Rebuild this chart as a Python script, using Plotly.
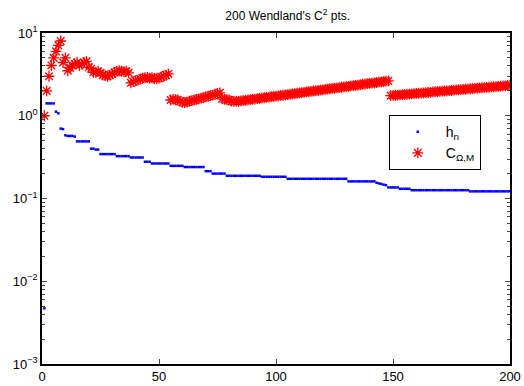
import plotly.graph_objects as go

n = list(range(1, 201))

h_n = [
    0.0047, 1.41, 1.41, 1.41, 1.41, 1.12, 1.07, 0.70, 0.69, 0.58,
    0.57, 0.57, 0.57, 0.56, 0.49, 0.49, 0.49, 0.49, 0.49, 0.49,
    0.40, 0.40, 0.39, 0.39, 0.344, 0.344, 0.344, 0.344, 0.344, 0.344,
    0.344, 0.325, 0.325, 0.325, 0.325, 0.325, 0.325, 0.313, 0.313, 0.313,
    0.313, 0.313, 0.313, 0.278, 0.278, 0.278, 0.265, 0.265, 0.265, 0.265,
    0.265, 0.265, 0.265, 0.265, 0.248, 0.248, 0.248, 0.248, 0.248, 0.248,
    0.240, 0.240, 0.240, 0.240, 0.240, 0.240, 0.240, 0.240, 0.240, 0.214,
    0.214, 0.214, 0.200, 0.200, 0.200, 0.200, 0.200, 0.200, 0.188, 0.188,
    0.188, 0.188, 0.188, 0.188, 0.188, 0.188, 0.188, 0.188, 0.188, 0.188,
    0.188, 0.188, 0.188, 0.183, 0.183, 0.183, 0.183, 0.183, 0.183, 0.183,
    0.183, 0.183, 0.183, 0.183, 0.173, 0.173, 0.173, 0.173, 0.173, 0.173,
    0.173, 0.173, 0.173, 0.173, 0.173, 0.173, 0.173, 0.173, 0.173, 0.173,
    0.173, 0.173, 0.173, 0.173, 0.173, 0.173, 0.173, 0.173, 0.173, 0.173,
    0.161, 0.161, 0.161, 0.161, 0.161, 0.161, 0.161, 0.161, 0.161, 0.161,
    0.161, 0.161, 0.155, 0.152, 0.150, 0.147, 0.145, 0.136, 0.136, 0.136,
    0.136, 0.136, 0.131, 0.131, 0.131, 0.131, 0.131, 0.126, 0.126, 0.126,
    0.126, 0.126, 0.126, 0.126, 0.126, 0.126, 0.126, 0.126, 0.126, 0.126,
    0.126, 0.126, 0.126, 0.126, 0.126, 0.126, 0.126, 0.126, 0.126, 0.126,
    0.126, 0.126, 0.122, 0.122, 0.122, 0.122, 0.122, 0.122, 0.122, 0.122,
    0.122, 0.122, 0.122, 0.122, 0.122, 0.122, 0.122, 0.122, 0.122, 0.122,
]

c_omega_m = [
    1.0, 2.0, 3.0, 4.05, 5.0, 6.0, 7.1, 8.0, 4.4, 5.0,
    3.5, 3.8, 4.05, 4.25, 4.4, 4.05, 4.2, 4.4, 4.55, 3.85,
    3.7, 3.35, 3.35, 3.45, 3.3, 3.1, 3.05, 3.0, 3.1, 3.2,
    3.35, 3.45, 3.5, 3.45, 3.4, 3.45, 3.3, 2.5, 2.58, 2.65,
    2.7, 2.78, 2.85, 2.88, 2.9, 2.85, 2.88, 2.82, 2.8, 2.85,
    2.95, 3.02, 3.1, 3.2, 1.55, 1.58, 1.56, 1.55, 1.5, 1.45,
    1.44, 1.46, 1.5, 1.52, 1.55, 1.58, 1.6, 1.63, 1.66, 1.69,
    1.72, 1.75, 1.78, 1.82, 1.86, 1.89, 1.6, 1.58, 1.57, 1.55,
    1.5, 1.49, 1.5, 1.49, 1.51, 1.53, 1.54, 1.55, 1.57, 1.58,
    1.59, 1.61, 1.62, 1.64, 1.65, 1.67, 1.68, 1.70, 1.71, 1.73,
    1.74, 1.76, 1.77, 1.79, 1.80, 1.82, 1.84, 1.85, 1.87, 1.89,
    1.90, 1.92, 1.94, 1.95, 1.97, 1.99, 2.01, 2.02, 2.04, 2.06,
    2.08, 2.10, 2.12, 2.14, 2.15, 2.17, 2.19, 2.21, 2.23, 2.25,
    2.27, 2.29, 2.31, 2.33, 2.35, 2.37, 2.40, 2.42, 2.44, 2.46,
    2.48, 2.50, 2.52, 2.55, 2.57, 2.59, 2.62, 2.64, 1.75, 1.76,
    1.77, 1.78, 1.79, 1.80, 1.81, 1.82, 1.83, 1.84, 1.85, 1.86,
    1.87, 1.88, 1.89, 1.90, 1.91, 1.92, 1.94, 1.95, 1.96, 1.97,
    1.98, 1.99, 2.00, 2.01, 2.02, 2.04, 2.05, 2.06, 2.07, 2.08,
    2.09, 2.11, 2.12, 2.13, 2.14, 2.15, 2.17, 2.18, 2.19, 2.20,
    2.21, 2.23, 2.24, 2.25, 2.26, 2.28, 2.29, 2.30, 2.32, 2.33,
]

x_ticks = [0, 50, 100, 150, 200]
y_tickvals = [0.001, 0.01, 0.1, 1, 10]
y_ticktext = ["10<sup>−3</sup>", "10<sup>−2</sup>", "10<sup>−1</sup>", "10<sup>0</sup>", "10<sup>1</sup>"]
y_minor = [m * d for d in (0.001, 0.01, 0.1, 1) for m in range(2, 10)]

FONT = "Liberation Sans, Arial, Helvetica, sans-serif"

fig = go.Figure()
fig.add_trace(go.Scatter(
    x=n, y=h_n, mode="markers", name="h<sub>n</sub>",
    marker=dict(symbol="square", size=2.5, color="#0000ff", line=dict(width=0)),
))
fig.add_trace(go.Scatter(
    x=n, y=c_omega_m, mode="markers", name="C<sub>Ω,M</sub>",
    marker=dict(symbol="asterisk-open", size=9, color="#ff0000",
                line=dict(color="#ff0000", width=1.3)),
))

fig.update_layout(
    width=524, height=386,
    margin=dict(l=42, r=14, t=33, b=22, autoexpand=False),
    paper_bgcolor="white", plot_bgcolor="white",
    font=dict(family=FONT, size=13, color="black"),
    title=dict(text="200 Wendland's C<sup>2</sup> pts.", x=0.525, xanchor="center",
               xref="paper", yref="container",
               y=0.958, yanchor="middle", font=dict(size=12, family=FONT)),
    showlegend=True,
    legend=dict(x=0.741, y=0.752, xanchor="left", yanchor="top",
                bordercolor="black", borderwidth=1, bgcolor="white",
                font=dict(size=14, family=FONT), itemwidth=46),
)
fig.update_xaxes(
    range=[0, 200], tickvals=x_ticks, ticks="inside", ticklen=5,
    showline=True, linecolor="black", linewidth=1.5, mirror="ticks",
    showgrid=False, zeroline=False, tickfont=dict(size=13), automargin=False,
)
fig.update_yaxes(
    type="log", range=[-3, 1], tickvals=y_tickvals, ticktext=y_ticktext,
    ticks="inside", ticklen=5,
    showline=True, linecolor="black", linewidth=1.5, mirror="ticks",
    showgrid=False, zeroline=False, tickfont=dict(size=13), automargin=False,
    minor=dict(tickvals=y_minor, ticks="inside", ticklen=3, showgrid=False),
)

fig.write_html("out.html")
